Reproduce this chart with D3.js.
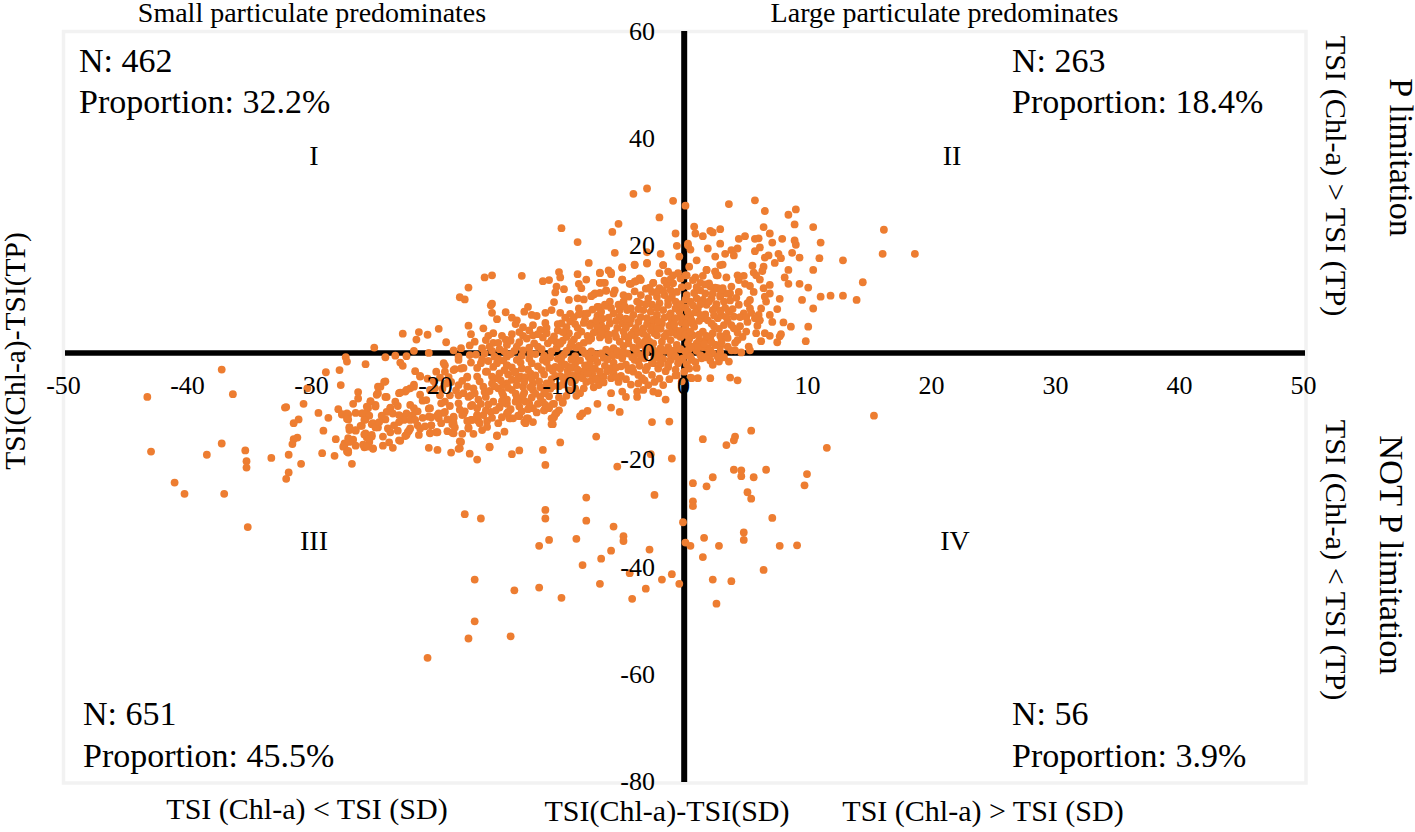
<!DOCTYPE html>
<html>
<head>
<meta charset="utf-8">
<script src="https://cdnjs.cloudflare.com/ajax/libs/d3/7.8.5/d3.min.js"></script>
<style>
body { margin: 0; background: #fff; }
text { font-family: "Liberation Serif", serif; fill: #000; }
</style>
</head>
<body>
<div id="scatter"></div>
<script>
var xTicks = [-50, -40, -30, -20, -10, 0, 10, 20, 30, 40, 50];
var yTicks = [60, 40, 20, 0, -20, -40, -60, -80];

// points, [TSI(Chl-a)-TSI(SD), TSI(Chl-a)-TSI(TP)]
var notPLimited = [[15.4,-11.8],[5.5,-14.6],[4.2,-15.7],[4.1,-16.4],[1.6,-16.2],[3.5,-17.3],[11.6,-17.8],[-0.9,-19.8],[-2.6,-19],[-5.3,-21.3],[4.1,-21.9],[4.7,-22],[4.7,-23.1],[6.7,-21.9],[5.7,-23.3],[2.4,-23.3],[1.9,-25],[0.8,-24.4],[10,-22.7],[9.8,-24.8],[5.2,-26.1],[5.5,-27.3],[0.8,-27.8],[0.8,-28.7],[-2.3,-26.6],[-7.8,-27.1],[-11.1,-29.4],[-11.1,-31],[-17.6,-30.2],[-16.3,-31],[-7.8,-31.4],[7.2,-30.9],[0,-31.7],[-5.6,-32.5],[4.9,-33.6],[4.9,-35],[-4.8,-34.3],[-4.8,-35.2],[1.7,-34.6],[-8.6,-34.8],[-10.8,-35],[-11.6,-36.1],[-5.8,-37],[-2.7,-36.8],[0.2,-35.5],[0.6,-36.1],[2.9,-36.1],[7.8,-36.1],[9.2,-36],[-6.6,-38.5],[1.6,-38.2],[-8.1,-39.7],[6.5,-40.6],[-4.3,-41.2],[-0.9,-41.4],[-1.7,-42.4],[2.4,-42.4],[3.9,-42.7],[-0.3,-43.2],[-6.7,-43.2],[-16.8,-42.4],[-3,-44.1],[-11.6,-43.9],[-13.6,-44.4],[-9.8,-45.8],[-4.1,-46],[2.7,-46.9],[-16.8,-50.2],[-17.3,-53.4],[-13.9,-53],[-20.6,-57]];

var lowerEdge = [[-2.5,-13],[-1.1,-12.9],[-7,-15.7],[-5.1,-11.1],[-5.8,-10.3],[-6.9,-9.6],[-7.7,-10.9],[-8.1,-11.4],[-8.3,-11.9],[-9.9,-16.8],[-11.3,-18.2],[-11.1,-21],[-13.2,-18.3],[-13.8,-19],[-15.6,-17.7],[-16.6,-20],[-17.2,-18.9],[-18.1,-18],[-18,-16.6],[-18.7,-18.7],[-19.8,-18.2],[-20.5,-17.8],[-18.6,-15],[-17.3,-14],[-15,-15.5],[-14.4,-14.8],[-20.4,-15],[-19.8,-14.9],[-20.3,-13.6],[-22.1,-14.6],[-22.3,-15.4],[-22.8,-16.5],[-10.5,-13.4],[-10.4,-12.1],[-10.2,-11.3],[-10.4,-9.6],[-9.7,-9.4],[-11.2,-10.8],[-12.1,-13],[-12.8,-13],[-12.5,-12.3],[-13.3,-11.8],[-13.9,-12.3],[-14.2,-11.4],[-14.2,-9.6],[-14.8,-10.3],[-15.5,-11.1],[-15.8,-12.8],[-16.5,-12.8],[-17.1,-12.6],[-16.6,-11.8],[-16.1,-11.7],[-17.7,-11.5],[-18.5,-12],[-18.6,-13.4],[-19,-12.5],[-19.3,-11.3],[-19.7,-12.3],[-20.3,-12.1],[-19.7,-11.4],[-20.5,-10.5],[-19.5,-9.5],[-16.6,-10.4],[-17.1,-10]];

var leftTail = [[-24.9,0.9],[-27.2,-0.9],[-27.1,-1.7],[-25.6,-2.2],[-28.8,-3.7],[-27.7,-3.3],[-37.2,-3.2],[-27.6,-6.1],[-36.3,-7.8],[-43.2,-8.3],[-30.3,-6.7],[-24.6,-6.4],[-24.7,-7.9],[-26.2,-7.4],[-26.2,-8.6],[-25.2,-9.1],[-26.6,-9.6],[-24.8,-9.8],[-30.6,-9.6],[-32,-10.2],[-32.1,-10.3],[-25.4,-10.4],[-27.8,-10.6],[-29.4,-11.3],[-28.6,-12.2],[-27.5,-11.6],[-27,-11.6],[-26.4,-11.3],[-25.9,-11.4],[-25.5,-11.7],[-27,-12.5],[-31,-12.5],[-31.4,-13.2],[-25.6,-12.5],[-25.1,-13.4],[-25.9,-13.7],[-24.6,-14],[-26.9,-14],[-26.4,-14.6],[-29,-14.6],[-26.9,-14.5],[-25.6,-15.1],[-25.1,-15.7],[-25.5,-15.9],[-31.1,-15.9],[-31.4,-16.2],[-31.5,-17.1],[-28,-16.2],[-27,-16],[-26.6,-16.3],[-25.3,-16.7],[-27.3,-17.3],[-26.4,-17.4],[-25.7,-17.7],[-25,-17.9],[-37.2,-17],[-42.9,-18.5],[-35.3,-18.3],[-38.4,-19.1],[-29.1,-18.8],[-28.1,-19.3],[-27.1,-18.5],[-27,-18.7],[-31.8,-19.1],[-33.2,-19.7],[-35.2,-20.3],[-35.2,-21.5],[-30.8,-20.8],[-26.7,-20.8],[-31.8,-22.4],[-32,-23.6],[-41,-24.3],[-40.2,-26.4],[-37,-26.4],[-35.1,-32.6]];

var leftBand = [[-21.6,-3.5],[-21.2,-4.5],[-19.9,-3.6],[-19.2,-2.4],[-18.4,-3.1],[-17.7,-2.9],[-17.4,-4.5],[-16.6,-4.5],[-15.9,-3.6],[-15.3,-2.7],[-14.8,-3.9],[-14.2,-2.4],[-15,-4.8],[-14.2,-5.8],[-14.9,-6.7],[-16.1,-6.4],[-16.9,-6.7],[-18.1,-6.1],[-20,-6.7],[-19.6,-8],[-20.4,-7],[-18.1,-8],[-17.3,-8.3],[-16.8,-7.6],[-15.9,-8.3],[-15.3,-9.2],[-14.5,-8],[-14.8,-10.1],[-18.8,-8],[-18.1,-9.5],[-17.6,-11],[-19.2,-9.2],[-19.2,-11.1],[-17,-9.8],[-16.6,-11.7],[-15.9,-10.8],[-16.4,-13.2],[-17,-12.6],[-18.5,-12.3],[-17.8,-11.7],[-17.3,-14.2],[-18.5,-13.2],[-20.4,-10.4],[-19.8,-11.7],[-20.5,-12],[-20.3,-13.6],[-19.9,-14.9],[-20.4,-15.1],[-18.5,-15.1],[-17.9,-16.7],[-18,-17.9],[-15.6,-17.6],[-15,-15.6],[-24,-5.4],[-24.4,-6.4],[-24.6,-7.6],[-24,-8.3],[-22.9,-7.6],[-22.4,-7.3],[-22,-6.7],[-21.7,-6],[-23.6,-10.4],[-23.4,-11.4],[-22.9,-11.7],[-22.7,-12],[-22.3,-11.4],[-22,-9.8],[-21.7,-10.4],[-21.4,-11],[-21.8,-11.7],[-22.5,-12.6],[-22.9,-13],[-22,-12.6],[-21.6,-12.6],[-21.4,-13.6],[-21.2,-14.2],[-22,-14.2],[-22.2,-14.9],[-22.4,-15.6],[-23.3,-13.6],[-23.8,-14.2],[-24,-12.5],[-24.2,-15.7],[-23.6,-14.9],[-23.7,-16.8],[-22.9,-16.4],[-25.2,-9.2],[-24.8,-10.1],[-25.5,-10.1],[-27.5,-11.5],[-27.1,-11.4],[-25.8,-11.4],[-25.3,-11.8],[-25.7,-12.6],[-25,-13.2],[-24.8,-14],[-26,-13.7],[-27.1,-12.4],[-26.9,-14],[-26.4,-14.5],[-25.7,-15.3],[-25.1,-15.4],[-25.3,-16.2],[-25.8,-17.2],[-25.5,-17.6],[-25,-18],[-27.3,-17],[-27.4,-17.6],[-26.9,-16.7],[-27,-18.4],[-23.2,-9.2],[-23,-10],[-23.9,-11.1],[-24.3,-11.8],[-24.5,-13],[-23,-14.6],[-21,-9],[-21.2,-7.9],[-20.7,-8.9],[-21,-12.2],[-20.8,-13.8],[-21.3,-15.4],[-24.2,-17.4],[-23.4,-17.8]];

var midBand = [[-20.6,-4.9],[-20.1,-5.4],[-19.6,-4.7],[-19.4,-6.8],[-18.9,-4.6],[-18.7,-5.5],[-18.3,-7.1],[-17.8,-5.3],[-17.7,-7.6],[-17.4,-6.4],[-17.1,-8],[-16.5,-8.8],[-16.3,-9.6],[-16,-7.4],[-15.6,-7.2],[-15.4,-5.8],[-15.2,-6.3],[-15.7,-9.7],[-15.1,-10.8],[-15.4,-12.2],[-16.2,-14.5],[-17.4,-12.8],[-18,-10.7],[-18.8,-10],[-18.4,-14],[-19.5,-13.2],[-19,-14.7],[-16.9,-15.2],[-17.8,-15.2],[-15.8,-13.9],[-14.9,-13.2],[-14.6,-12.1],[-16.3,-2],[-15.7,-1.6],[-15.2,-0.8],[-16.6,-2.9],[-15,-2],[-15.4,0.3],[-16.7,-0.4],[-16,-0.2]];

var upperLeft = [[-2.9,30.6],[-4,29.6],[-0.8,28.3],[0.2,27.4],[-1.9,25.2],[-5.2,24],[-5.7,22.5],[-9.8,23.2],[-8.5,20.6],[-0.6,22.2],[-0.5,19.9],[0.4,20],[-5.5,18.6],[-1.8,18.4],[-0.3,17.9],[-2.9,18.7],[-2.9,16.6],[-7.6,16.7],[-3.9,16.3],[-4.9,15.8],[-1.6,16.3],[-13,14.3],[-15.4,14.4],[-16,14],[-10,15],[-9.9,14],[-8.5,14.6],[-6.7,14.8],[-6,15.3],[-5.8,14.6],[-4.9,13.6],[-7.8,13.6],[-11.3,13.3],[-10.8,13.5],[-8.4,12.8],[-8.2,12],[-10.2,12.3],[-9.6,11.8],[-10.3,11.2],[-17.3,12.1],[-18,10.3],[-17.6,9.9],[-6.7,13],[-6.4,13],[-4.2,12.8],[-3.8,13.3],[-3.4,13.5],[-2.4,13],[-6.2,11.6],[-5.5,11.6],[-7.2,10.8],[-6.7,11.1],[-7.4,10.5],[-9.2,9.8],[-8.5,10.1],[-8,9.9],[-10.4,9.4],[-15.4,9.1],[-15.5,8.8],[-15.4,7.4],[-12.5,8.5],[-12.8,7.6],[-14.3,7.5],[-13.8,6.5],[-15,6.2],[-13.4,6],[-13.5,5.3],[-12.2,7],[-11.8,6.8],[-11.1,7.4],[-10.6,7.9],[-9.9,7.4],[-9.1,7.2],[-8.4,8.2],[-8,7.2],[-6.9,8.5],[-6.2,8.7],[-7.7,7.3],[-6.9,6.8],[-7.4,5.4],[-10.1,5.3],[-9.8,5.4],[-11.1,5.5],[-12.1,5.1],[-12.9,4.7],[-11.5,4.2],[-12.1,3.2],[-12.9,3.1],[-17.3,5],[-16.1,4.5],[-17.1,3.4],[-19.7,4.4],[-21.3,3.8],[-20.6,3.3],[-22.6,3.5],[-21.5,2.4],[-19.1,1.9],[-15.3,3.6],[-15.7,3.1],[-16.8,2],[-15.9,2.3],[-15.3,1.8],[-17.2,1.3],[-14.3,2.4],[-21.7,0.3],[-18.5,0.4],[-17.9,0.8],[-16.2,0.8],[-15.6,1.1],[-14.2,1.4],[-20.5,-0.1],[-24,-0.9],[-23.2,-0.6],[-22.3,-0.7],[-18.1,-0.8],[-17.2,-0.5],[-22.8,-1.9],[-22.6,-2.5],[-19.3,-2],[-18.1,-1.4],[-17.1,-1.9],[-16.2,-1.3],[-17.9,-3],[-18.5,-3.3],[-19.2,-3.6],[-21.2,-4.4],[-24.1,-5.5],[-21.7,-6.4],[-17.4,-4.7],[-15.8,-3.6],[-15.4,-4.5],[-16.4,-5.4],[-19.1,-5.8],[-22.3,-7],[-22.8,-7.5],[-23.9,-8.3],[-23.6,-10.3]];

var upperRight = [[3.7,27.7],[5.8,28.4],[6.6,26.4],[8.5,25.7],[9.1,26.7],[9,23.9],[10.5,23.4],[6.5,23.4],[7,22.2],[0.9,23.5],[1,22.2],[1.6,21.7],[2.2,22.7],[2.4,22.4],[3,23],[5,21.7],[4.5,21.2],[5.8,21.2],[6.1,21.3],[7.2,20.5],[8,21.2],[9,20.9],[9.1,20.1],[11.1,20.5],[3,20.3],[0.4,20.3],[0.6,19.2],[2,19.4],[4.4,19.4],[3.9,19.1],[3.4,18.4],[4.1,18.1],[2.6,17.9],[6.2,19.6],[5.8,18.9],[6.9,18.1],[6.6,17.7],[7.7,18.4],[7.9,17.6],[8.8,18.6],[7.4,16.7],[9.4,17.7],[11,17.6],[12.9,17.2],[16.2,22.9],[16.1,18.4],[18.7,18.4],[1.1,17.2],[3,16.3],[3.2,16.4],[5.6,16.2],[6.5,16],[0.5,16],[1.9,15.4],[2.6,15.1],[2.7,14.4],[5.7,14.9],[6.4,15.2],[5.9,14.4],[8.5,15.4],[10.5,15.4],[4.4,14.4],[4.9,14.3],[3.5,14],[1.6,14.3],[1,14],[0.2,14.4],[14.5,13.1],[8.2,14],[6.2,13.6],[4.5,13.5],[8.5,12.8],[9.4,12.8],[10.1,12.1],[7,12.6],[5,12.8],[5.4,12.4],[2.1,12.9],[2.6,12.1],[3.2,12],[6.5,12],[7,11],[5.7,11.3],[7.8,10],[6.6,10.4],[11.1,10.4],[11.9,10.6],[12.9,10.6],[14,9.8],[9.6,9.8],[10.5,8.2],[7.6,8.1],[5.4,9.8],[4.5,11.3],[3.8,11],[3,10.7],[3.8,9.7],[4.5,8.9],[5.4,8.2],[4.9,7.3],[6.7,9.5],[6.3,8.2],[6.1,7],[5.8,6.4],[6.2,6],[7,7],[7.2,5.7],[8.1,5.6],[8.7,4.8],[10.1,4.8],[5.2,5.7],[4.1,6.7],[3.9,5.1],[5.1,3.9],[4.4,3.7],[5.9,3.6],[6.6,3.6],[7,3.1],[7.9,3.4],[7.8,3],[6.3,2.1],[7.6,1.9],[9.9,2.1],[5.3,1.1],[5.4,0.4],[4.2,0.4],[4.7,0],[3.1,2.6],[2.6,1.4],[3,0.1],[2.2,0.4],[3.7,-1.7],[2.4,-2.3],[2.9,-1.7],[1.5,-1.1],[3.8,-4.7],[4.4,-5.2],[2.2,-4.8],[1.2,-4.8],[0.6,-4.7],[-0.1,-5.4],[-0.6,-4.3]];

var belowCenter = [[-5.8,-7.6],[-4.9,-7.3],[-4.6,-8.3],[-3.7,-8.3],[-3.2,-7],[-3.7,-7.3],[-2.4,-7.3],[-2,-7.6],[-1.4,-8.8],[-8.3,-7.6],[-9.4,-8.1],[-10,-8.4],[-9.7,-9.2],[-10.5,-9.6],[-10,-10.8],[-10.3,-11.5],[-10.6,-12.3],[-10.6,-13.4],[-11.2,-10.8],[-12.1,-10.4],[-12.4,-9.5],[-13.1,-8.9],[-13.5,-9.2],[-14.3,-9.5],[-14,-12.3],[-13.2,-11.9],[-12.6,-12.3],[-12.7,-13.2],[-11.5,-8.3],[-11.2,-7.6],[-12.1,-7],[-12.9,-6.4],[-13.8,-7],[-14.5,-6.1],[-13.8,-5.1],[-13.1,-4.5],[-12.3,-3.9],[-12.1,-5.8],[-11,-5.8],[-9.4,-4.5],[-8.7,-5.2],[-8.4,-3.9],[-7.8,-5.5],[-6.8,-6.1],[-6.8,-4.8],[-6.4,-4.5],[-5.2,-5.5],[-5.6,-3.9],[-5.9,-3],[-7.1,-3],[-7.8,-3],[-9.2,-2.7],[-10.3,-2.7],[-11.3,-1.4],[-12.2,-2],[-13.4,-1.4],[-14.2,-2.4],[-13.5,-3.6],[-4.4,-3.3],[-4,-3.6],[-3.6,-4.2],[-3.3,-4.8],[-3.1,-5.2],[-3.6,-5.8],[-2.5,-4.2],[-2.3,-5.5],[-1.6,-6.1],[-2.9,-2.7],[-2.4,-2],[-1.2,-2.7],[-0.5,-4.2],[-3.6,-1.7],[-1.9,-1.1],[-1,-1.4],[-0.2,-1.4],[0.7,-1.4],[0.7,-4.8],[-13.9,-10.6],[-13.2,-10.1],[-12.7,-9.2],[-12.2,-8.4],[-11.7,-9.6],[-11.3,-9.3],[-10.8,-8.2],[-13.5,-7.7],[-12.8,-7.5],[-12.3,-6.5],[-11.5,-6.5],[-10.7,-6.8],[-10,-6.3],[-9.2,-7.1],[-8.7,-6.7],[-8,-6.7],[-7.2,-6.5],[-7.4,-5.3],[-8.6,-8.1],[-14.1,-11.1],[-13.7,-12.3]];

var denseCore = [[-6.7,14.9],[-5.8,14.9],[-4.9,15.9],[-3.9,16.4],[-2.9,16.7],[-1.6,16.3],[-4.9,13.6],[-6.7,13],[-6.3,13],[-4.3,12.8],[-3.9,13.2],[-3.5,13.8],[-2.4,13],[-1.9,14.8],[-1.2,15.1],[-0.8,14.4],[-0.2,13.8],[0.3,14.4],[0.8,13.5],[1.9,15.4],[2.6,15.1],[2.8,14.4],[1.4,13],[2.2,12.3],[2.8,12],[3.5,11],[-7.1,11],[-6.2,11.5],[-5.6,11],[-4.8,10.7],[-2.5,11.3],[-1.9,12],[-1.3,12.6],[-0.8,12.9],[-3.7,9.5],[-3.5,9.2],[-2.8,10.1],[-2.1,10.4],[-1.5,10.7],[-0.9,10.4],[0.3,10.7],[0.6,9.5],[1.1,10.1],[1.6,9.8],[2.3,10.1],[3,10.4],[1.8,11],[-4.8,9.5],[-5.2,8.9],[-5.9,9.5],[-6.8,8.5],[-6.3,8.9],[-6.8,7],[-5.6,7.3],[-4.5,7.9],[-5.1,6.7],[-4,7],[-3.2,7.9],[-2.5,8.9],[-1.9,9.2],[-1.2,8.9],[-0.6,9.5],[-1,7.3],[-2.1,7],[-2.9,6.4],[-3.6,5.7],[-4.3,5.4],[-4.9,5.4],[-5.9,5.4],[-6.6,5.1],[-7,3.9],[-6.2,4.5],[-5.5,3.6],[-4.8,3.9],[-4,3.9],[-3.2,4.5],[-2.5,5.1],[-1.7,5.4],[-0.9,6],[-0.2,6.7],[0.6,7],[1.2,8.2],[1.9,8.9],[2.4,7.9],[3.3,9.5],[3.7,7.6],[2.8,6.4],[3.3,5.1],[2.3,5.4],[1.6,6.4],[0.8,5.4],[0.2,4.5],[-0.6,4.2],[-1.3,3.6],[-2.1,3.2],[-2.9,2.9],[-3.7,2.3],[-4.4,2.6],[-5.1,2],[-7.4,2.6],[-6.7,2.8],[-6,2.3],[-1,2.3],[-0.2,2.9],[0.8,3.2],[1.6,3.9],[2.4,3.6],[1.8,2.3],[1.1,1.7],[2.6,1.4],[3,1.1],[2,0.8],[0.4,1.7],[-0.5,1.4],[-3.5,1.4],[-4,0.9],[-4.8,1.2],[-5.6,0.8],[-2.4,1.7],[-1.7,2],[-3.7,-0.2],[-4.5,-0.2],[-5.3,-0.5],[-2.1,-0.5],[0.3,-0.5],[2.4,-0.2],[-14.8,0.6],[-14.2,-0.8],[-13.6,0.3],[-13,-0.6],[-12.4,0.9],[-11.9,-0.3],[-11.4,0.6],[-10.7,-0.9],[-10.2,0.8],[-9.6,-0.4],[-9.1,1.1],[-8.7,-0.7],[-8.1,0.4],[-7.6,-0.9],[-7,-0.3],[-6.4,-1],[-5.9,0.2],[-4.9,-1.1],[-14.5,-1.5],[-13.8,-2.8],[-13.1,-1.9],[-12.5,-3.2],[-11.7,-2.6],[-11,-1.8],[-10.5,-3.4],[-9.8,-1.9],[-9.3,-3.4],[-8.7,-2.1],[-8.1,-3.6],[-7.5,-2],[-6.9,-1.8],[-6.3,-2.5],[-5.6,-1.9],[-5,-2.6],[-14.1,-4.1],[-13.3,-4.9],[-12.7,-4.6],[-11.9,-4.3],[-11.2,-4.1],[-10.6,-5],[-9.9,-4.4],[-9.7,-6],[-9,-5.6],[-8.5,-4.6],[-7.3,-4.2],[-6.1,-3.5],[-5,-4.4],[-14.6,3.1],[-13.9,2.2],[-13.2,1.9],[-12.6,2.6],[-12,1.7],[-11.3,2.8],[-10.9,1.7],[-10.4,3],[-9.7,2.2],[-9.2,3.6],[-8.8,2.4],[-8.2,3.9],[-8,1.8],[-7.7,3.1],[-7.5,5],[-8.7,5.3],[-9.4,4.7],[-10.1,4.1],[-11,4.6],[-6.9,4.7],[-6.4,3.3],[-5.4,2.9],[-4.6,4.6],[-3.9,3.2],[-3.2,3.5],[-2.7,2],[-2.3,3.6],[-1.8,4.4],[-1.1,5],[-0.5,3.3],[-3,0.7],[-2.4,0.5],[-1.8,0.8],[-1.2,1],[-0.7,0.4],[-0.2,0.6],[0.5,0.6],[1.1,0.3],[1.6,1],[2.8,-0.8],[0,-1.1],[-1,-0.4],[-3.1,-1.1],[-3.9,-1.4],[-2.5,-1.9],[0.9,4.8],[1.3,5.9],[0.3,6.3],[-0.3,7.7],[0.2,8.4],[1,7.5],[1.8,7.1],[2.6,8.3],[3.1,6.9],[3.6,5.9],[4.1,4.5],[3.5,3.5],[4.4,2.3],[3.6,2.7],[2.9,4.4],[2.2,2.7],[1.3,2.2],[0.5,2.5],[4.2,1.8],[1.4,-0.5],[2,-0.6],[3.3,-0.9],[2.2,-1.5],[1,-1.8],[0.3,-2.2],[-0.4,-2],[0.5,-3],[-0.6,-3.2],[-1.4,-3.5],[-1.2,-2.2]];

// second pass over the solid part of the cloud, estimated
var coreWest = [[-14.9,-1.2],[-14.4,-3.3],[-14.7,-5.2],[-14.1,-6.6],[-13.6,-3.7],[-13.4,-6.1],[-13,-3],[-12.8,-5.5],[-12.4,-1.2],[-12.2,-4.9],[-11.9,-7.7],[-11.6,-5.4],[-11.4,-3.3],[-11.1,-7.1],[-10.8,-2.9],[-10.5,-6.3],[-10.3,-4.4],[-10.1,-1.2],[-14.6,-7.4],[-14.2,-8.8],[-13.4,-8.4],[-12.9,-8],[-12.5,-10.6],[-11.8,-11.2],[-11.1,-9.8],[-10.8,-10.4],[-13,-11],[-14.6,-9.1],[-14.9,1.8],[-14.4,0.2],[-13.9,-0.3],[-13.4,1.1],[-12.9,0.4],[-12.3,-0.2],[-11.7,1.1],[-11.2,-0.6],[-10.6,0.2],[-10.2,1.9],[-13.8,3.4],[-13.2,3.8],[-12.4,4.1],[-11.7,3.4],[-11,3.6],[-10.6,2.3]];

var coreMiddle = [[-9.8,-0.9],[-9.4,0.3],[-9,-1.3],[-8.6,0.9],[-8.3,-1.5],[-7.9,-0.2],[-7.4,0.2],[-7.1,-1.1],[-6.6,-0.2],[-6.2,0.5],[-5.7,-0.6],[-5.3,0.3],[-9.9,-3],[-9.5,-2.3],[-9,-2.9],[-8.5,-3.2],[-7.9,-2.4],[-7.3,-3.3],[-6.7,-3.6],[-6.1,-1.3],[-5.4,-2.8],[-9.6,-5.1],[-8.9,-4.3],[-8.1,-4.8],[-7.7,-4],[-7,-5],[-6.4,-5.6],[-5.8,-4.8],[-5.4,-4.6],[-9.9,1.6],[-9.4,2.9],[-9,1.8],[-8.5,3.2],[-8.4,1.2],[-7.6,2.2],[-7.2,3.7],[-6.6,3.9],[-6,3.3],[-5.3,4.6],[-9.7,3.8],[-9.1,5.8],[-8.5,4.6],[-8,5.5],[-7.9,6.2],[-7,6],[-6.5,6.3],[-6,6.5],[-5.4,5.9],[-5.1,7.9],[-9.5,6.5],[-8.8,6.6],[-8.4,7.1],[-7.3,8],[-6.6,7.6],[-5.8,8.3]];

var coreEast = [[-4.8,0.1],[-4.4,1.7],[-4.1,-0.9],[-3.8,0.6],[-3.4,-0.5],[-3,-0.1],[-2.7,0.9],[-2.3,-0.9],[-1.9,-0.2],[-1.5,0.3],[-1.1,0.4],[-4.7,3],[-4.2,3.3],[-3.6,3.8],[-3.1,2],[-2.6,4.1],[-2.1,4.6],[-1.5,3],[-1,3.7],[-0.7,5.3],[-0.2,4],[-4.6,6.3],[-4.2,6.2],[-3.8,4.6],[-3.4,6.6],[-2.9,5.3],[-2.4,6.1],[-2,5.8],[-1.5,6.5],[-1.1,6.8],[-0.6,6.4],[-0.1,5.5],[-4.7,8.6],[-4.2,8.2],[-3.6,8.1],[-3,9],[-2.6,7.6],[-2.1,8.3],[-1.6,7.9],[-1.2,9.7],[-0.6,8.2],[-0.2,9],[-4.4,10.4],[-3.9,11.4],[-3.4,10.7],[-3,11.9],[-2.7,12.1],[-2.1,11.3],[-1.6,11.5],[-1,11.6],[-0.5,11.3],[-0.1,12.2],[-1.5,13.4],[-1,13.7],[-0.4,14.8],[-4.6,-2.3],[-4.1,-2.9],[-3.5,-2.5],[-3,-3.3],[-2,-3],[-1.6,-1.2],[-1.8,-2.1],[-0.6,-0.8],[-1.9,-4.9],[-1.1,-5],[-4.6,-5],[-4.2,-6],[-2.8,-6.1],[0.2,0.2],[0.7,1.1],[1.2,1],[1.7,1.6],[2.3,1.9],[3.1,1.9],[3.6,1.1],[3.9,0.4],[0.2,3.3],[0.6,3.9],[1.3,3.3],[1.9,3.1],[2.5,4.9],[3,3.1],[0.3,5.4],[0.7,6],[1.4,7],[2,6],[2.5,6.9],[3,7.8],[3.5,6.6],[4,8.1],[0.4,7.6],[0.8,8.8],[1.4,9],[2.1,9.5],[2.7,9],[3.4,8.3],[0.2,9.9],[0.9,11.1],[1.4,11.6],[2.4,11],[3.1,11.7],[0.4,12.4],[1.1,12.2],[1.8,12.7],[3.9,12.3],[4.3,10.2],[4.6,6.6],[4.6,4.9],[4.8,2.9],[5.1,6.6],[5.5,7.4],[5.2,9.2],[6,5],[0.6,-0.8],[1.8,-0.9],[1.1,-2.9],[0.1,-3.6]];

var allPoints = notPLimited.concat(lowerEdge, leftTail, leftBand, midBand, upperLeft, upperRight, belowCenter, denseCore, coreWest, coreMiddle, coreEast);

var svgWidth = 1415;
var svgHeight = 832;

var svg = d3.select("#scatter")
    .append("svg")
    .attr("width", svgWidth)
    .attr("height", svgHeight)
    .style("display", "block");

var xScale = d3.scaleLinear().domain([-50, 50]).range([63, 1303]);
var yScale = d3.scaleLinear().domain([-80, 60]).range([781, 31]);

// light plot frame
svg.append("rect")
    .attr("x", 63.5)
    .attr("y", 31.5)
    .attr("width", 1242.5)
    .attr("height", 751.5)
    .attr("fill", "none")
    .attr("stroke", "#f2f2f2")
    .attr("stroke-width", 3.5);

// heavy zero lines, the dots sit on top of them
svg.append("line")
    .attr("x1", 65)
    .attr("x2", 1305)
    .attr("y1", yScale(0) + 0.6)
    .attr("y2", yScale(0) + 0.6)
    .attr("stroke", "#000")
    .attr("stroke-width", 5.4);

svg.append("line")
    .attr("x1", xScale(0) + 1.2)
    .attr("x2", xScale(0) + 1.2)
    .attr("y1", 31)
    .attr("y2", 782)
    .attr("stroke", "#000")
    .attr("stroke-width", 6);

svg.append("g")
    .selectAll("circle")
    .data(allPoints)
    .enter()
    .append("circle")
    .attr("cx", d => xScale(d[0]))
    .attr("cy", d => yScale(d[1]))
    .attr("r", 3.9)
    .attr("fill", "#ED7D31");

// tick labels go over the dots
var xAxis = svg.append("g")
    .attr("transform", `translate(0, ${yScale(0)})`)
    .call(d3.axisBottom(xScale).tickValues(xTicks).tickSize(0).tickPadding(23).tickFormat(d => String(d)));

var yAxis = svg.append("g")
    .attr("transform", `translate(${xScale(0) - 28}, 0)`)
    .call(d3.axisLeft(yScale).tickValues(yTicks).tickSize(0).tickPadding(0).tickFormat(d => String(d)));

xAxis.select(".domain").remove();
yAxis.select(".domain").remove();
svg.selectAll(".tick text")
    .attr("font-family", "Liberation Serif")
    .attr("font-size", 26)
    .attr("fill", "#000");

function label(txt, x, y, size, anchor, rotate) {
    var t = svg.append("text")
        .attr("font-size", size)
        .attr("text-anchor", anchor || "start")
        .text(txt);
    if (rotate) {
        t.attr("transform", `translate(${x}, ${y}) rotate(${rotate})`);
    } else {
        t.attr("x", x).attr("y", y);
    }
}

label("Small particulate predominates", 312, 22, 28, "middle");
label("Large particulate predominates", 944.5, 22, 28, "middle");

label("N: 462", 79, 72, 34);
label("Proportion: 32.2%", 79, 113, 34);
label("N: 263", 1012, 72, 34);
label("Proportion: 18.4%", 1012, 113, 34);
label("N: 651", 83, 725, 34);
label("Proportion: 45.5%", 83, 767, 34);
label("N: 56", 1012, 725, 34);
label("Proportion: 3.9%", 1012, 767, 34);

label("I", 314, 165, 28, "middle");
label("II", 952, 165, 28, "middle");
label("III", 314, 550, 28, "middle");
label("IV", 955, 550, 28, "middle");

label("TSI (Chl-a) < TSI (SD)", 307, 819, 30, "middle");
label("TSI(Chl-a)-TSI(SD)", 667, 821, 30, "middle");
label("TSI (Chl-a) > TSI (SD)", 983, 821, 30, "middle");

label("TSI(Chl-a)-TSI(TP)", 25, 351, 29.5, "middle", -90);
label("TSI (Chl-a) > TSI (TP)", 1326, 176, 30.3, "middle", 90);
label("TSI (Chl-a) < TSI (TP)", 1326, 560, 30.3, "middle", 90);
label("P limitation", 1390, 157.5, 34, "middle", 90);
label("NOT P limitation", 1380, 555, 34.5, "middle", 90);
</script>
</body>
</html>
